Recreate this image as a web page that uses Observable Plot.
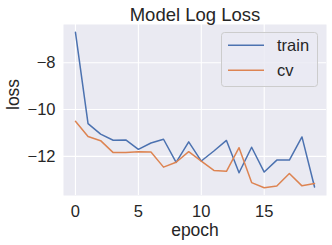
<!DOCTYPE html>
<html>
<head>
<meta charset="utf-8">
<script src="https://cdn.jsdelivr.net/npm/d3@7"></script>
<script src="https://cdn.jsdelivr.net/npm/@observablehq/plot@0.6"></script>
<style>
  html, body { margin: 0; padding: 0; background: #ffffff; }
  #chart { width: 332px; height: 245px; }
</style>
</head>
<body>
<div id="chart"></div>
<script>
const titleText = "Model Log Loss";
const xLabel = "epoch";
const yLabel = "loss";
const epochs = [0,1,2,3,4,5,6,7,8,9,10,11,12,13,14,15,16,17,18,19];
const trainLoss = [-6.70,-10.60,-11.05,-11.31,-11.30,-11.70,-11.43,-11.27,-12.26,-11.38,-12.20,-11.77,-11.32,-12.70,-11.61,-12.67,-12.16,-12.16,-11.17,-13.31];
const cvLoss = [-10.50,-11.15,-11.33,-11.84,-11.84,-11.80,-11.81,-12.46,-12.25,-11.80,-12.20,-12.60,-12.64,-11.63,-13.12,-13.34,-13.27,-12.73,-13.26,-13.16];
const seriesNames = ["train", "cv"];
const seriesColors = ["#4c72b0", "#dd8452"];
const xTicks = [0, 5, 10, 15];
const yTicks = [-12, -10, -8];

const rows = [];
epochs.forEach((e, i) => {
  rows.push({epoch: e, loss: trainLoss[i], series: seriesNames[0]});
  rows.push({epoch: e, loss: cvLoss[i], series: seriesNames[1]});
});

const allVals = trainLoss.concat(cvLoss);
const yMin = d3.min(allVals), yMax = d3.max(allVals);
const yPad = (yMax - yMin) * 0.05;
const xMin = d3.min(epochs), xMax = d3.max(epochs);
const xPad = (xMax - xMin) * 0.05;

const font = "'Liberation Sans', Arial, sans-serif";
const textColor = "#262626";

const W = 332, H = 245;
const plot = Plot.plot({
  width: W,
  height: H,
  marginLeft: 63,
  marginRight: 6,
  marginTop: 24,
  marginBottom: 50,
  style: {fontFamily: font, fontSize: "16.5px", color: textColor, background: "#ffffff"},
  x: {domain: [xMin - xPad, xMax + xPad], ticks: xTicks},
  y: {domain: [yMin - yPad, yMax + yPad], ticks: yTicks},
  color: {domain: seriesNames, range: seriesColors},
  marks: [
    Plot.frame({fill: "#eaeaf2", stroke: null}),
    Plot.gridX(xTicks, {stroke: "#ffffff", strokeOpacity: 1, strokeWidth: 1.1}),
    Plot.gridY(yTicks, {stroke: "#ffffff", strokeOpacity: 1, strokeWidth: 1.1}),
    Plot.axisX(xTicks, {tickSize: 0, tickPadding: 10, label: null, fontSize: 16.5, fill: textColor}),
    Plot.axisY(yTicks, {tickSize: 0, tickPadding: 8, label: null, fontSize: 16.5, fill: textColor}),
    Plot.line(rows, {x: "epoch", y: "loss", z: "series", stroke: "series", strokeWidth: 1.5}),
    Plot.text([titleText], {frameAnchor: "top", dy: -4, lineAnchor: "bottom", fontSize: 18.5, fill: textColor}),
    Plot.text([xLabel], {frameAnchor: "bottom", dy: 35, lineAnchor: "middle", fontSize: 17.5, fill: textColor}),
    Plot.text([yLabel], {frameAnchor: "left", dx: -50, rotate: -90, lineAnchor: "middle", fontSize: 17.5, fill: textColor})
  ]
});

// legend inside the plot area, top right
const svg = d3.select(plot);
const lg = svg.append("g").attr("font-family", font).attr("font-size", 16.5).attr("fill", textColor)
  .attr("text-anchor", "start");
lg.append("rect")
  .attr("x", 221.5).attr("y", 32.5).attr("width", 96).attr("height", 54)
  .attr("rx", 3).attr("fill", "#eaeaf2").attr("fill-opacity", 0.8)
  .attr("stroke", "#cccccc").attr("stroke-width", 1);
seriesNames.forEach((name, i) => {
  const y = 45.3 + i * 25;
  lg.append("line").attr("x1", 228).attr("x2", 264).attr("y1", y).attr("y2", y)
    .attr("stroke", seriesColors[i]).attr("stroke-width", 1.5);
  lg.append("text").attr("x", 277).attr("y", y).attr("dy", "0.35em")
    .attr("text-anchor", "start").text(name);
});

document.getElementById("chart").appendChild(plot);
</script>
</body>
</html>
